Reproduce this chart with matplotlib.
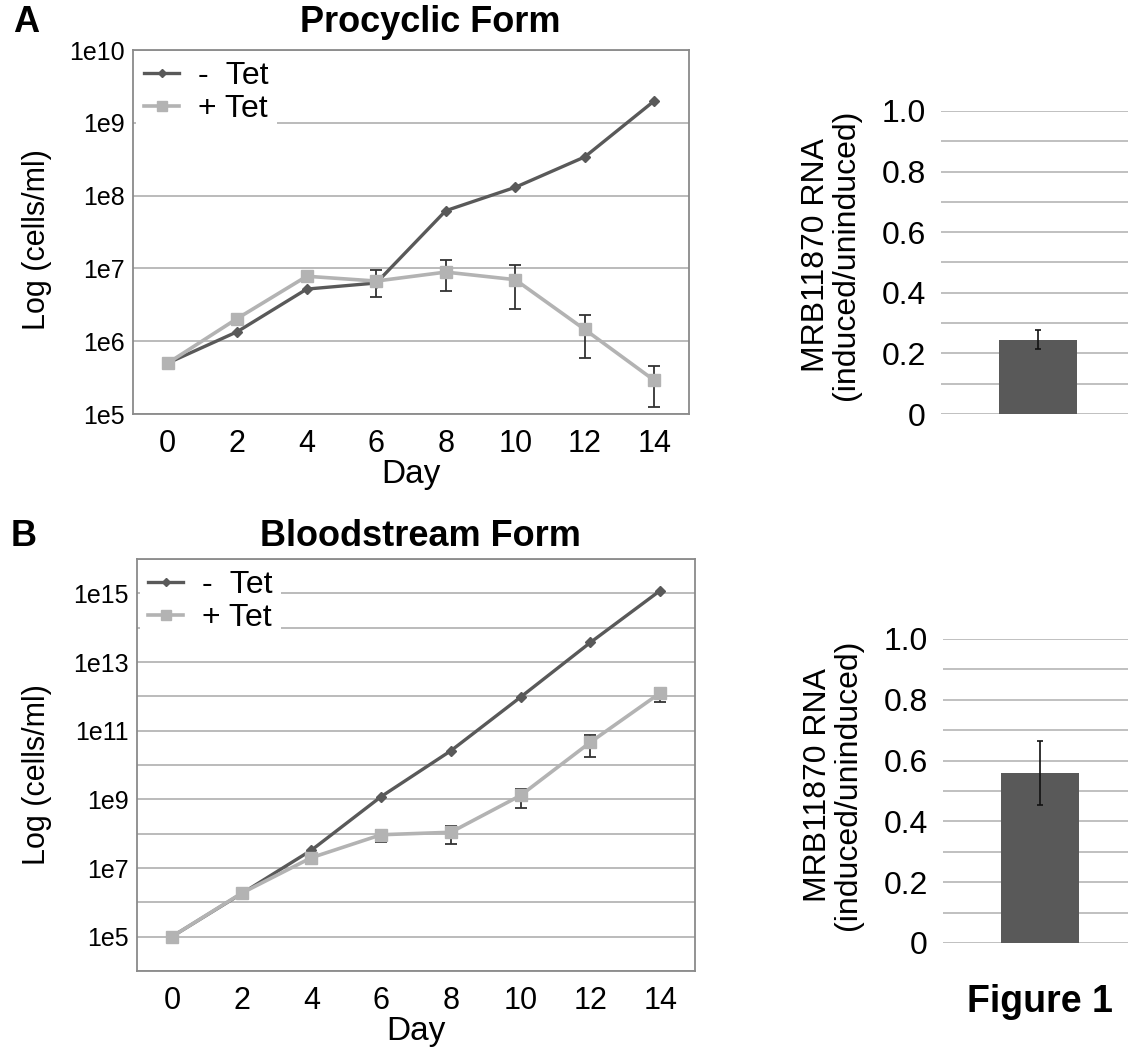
import matplotlib
matplotlib.use("Agg")
import matplotlib.pyplot as plt
from matplotlib.ticker import FixedLocator, NullFormatter

plt.rcParams['font.family'] = ['Liberation Sans', 'DejaVu Sans']

# ---- growth curves ----
days = [0, 2, 4, 6, 8, 10, 12, 14]
day_labels = ["0", "2", "4", "6", "8", "10", "12", "14"]

pcf_minus = [5.0e5, 1.35e6, 5.2e6, 6.3e6, 6.2e7, 1.3e8, 3.4e8, 2.0e9]
pcf_plus = [5.0e5, 2.05e6, 7.8e6, 6.7e6, 8.9e6, 7.0e6, 1.45e6, 2.9e5]
pcf_plus_err = [0, 0, 0, 2.7e6, 4.0e6, 4.2e6, 8.6e5, 1.65e5]

bsf_minus = [1.0e5, 1.8e6, 3.3e7, 1.2e9, 2.6e10, 9.5e11, 3.7e13, 1.2e15]
bsf_plus = [1.0e5, 1.85e6, 2.0e7, 9.3e7, 1.1e8, 1.3e9, 4.6e10, 1.25e12]
bsf_plus_err = [0, 2.0e5, 0, 3.5e7, 6.0e7, 7.5e8, 2.9e10, 5.5e11]

pcf_yticks = [1e5, 1e6, 1e7, 1e8, 1e9, 1e10]
pcf_ylabels = ["1e5", "1e6", "1e7", "1e8", "1e9", "1e10"]
bsf_yticks = [1e5, 1e7, 1e9, 1e11, 1e13, 1e15]
bsf_ylabels = ["1e5", "1e7", "1e9", "1e11", "1e13", "1e15"]
bsf_grid = [10.0 ** k for k in range(4, 17)]

series_names = ["-  Tet", "+ Tet"]

# ---- RNA knockdown ----
pcf_rna = [0.245]
pcf_rna_err = [0.032]
bsf_rna = [0.559]
bsf_rna_err = [0.104]
rna_ticks = [0, 0.2, 0.4, 0.6, 0.8, 1.0]
rna_ticklabels = ["0", "0.2", "0.4", "0.6", "0.8", "1.0"]
rna_grid = [i / 10 for i in range(11)]

DARK = "#595959"
LIGHT = "#b3b3b3"
GRID = "#b5b5b5"
FRAME = "#8a8a8a"

W, H = 1128, 1057
fig = plt.figure(figsize=(W / 100, H / 100), dpi=100)


def box(l, r, t, b):
    return [l / W, 1 - b / H, (r - l) / W, (b - t) / H]


def growth(ax, minus, plus, err, yticks, ylabels, ylim, grid_vals, ylab_xy):
    ax.set_yscale("log")
    ax.set_xlim(-1, 15)
    ax.set_ylim(*ylim)
    for g in grid_vals:
        ax.axhline(g, color=GRID, lw=1.3, zorder=0)
    ax.errorbar(days, plus, yerr=err, fmt="none", ecolor="#333333",
                elinewidth=1.3, capsize=4, capthick=1.3, zorder=2)
    ax.plot(days, minus, color=DARK, lw=2.4, marker="D", ms=5,
            label=series_names[0], zorder=3)
    ax.plot(days, plus, color=LIGHT, lw=2.6, marker="s", ms=9,
            label=series_names[1], zorder=4)
    ax.yaxis.set_major_locator(FixedLocator(yticks))
    ax.yaxis.set_minor_locator(FixedLocator([]))
    ax.yaxis.set_minor_formatter(NullFormatter())
    ax.set_yticklabels(ylabels)
    ax.set_xticks(days)
    ax.set_xticklabels(day_labels)
    ax.tick_params(axis="y", length=0, pad=6, labelsize=18)
    ax.tick_params(axis="x", length=0, pad=11, labelsize=22)
    for s in ax.spines.values():
        s.set_color(FRAME)
        s.set_linewidth(1.3)
    ax.set_xlabel("Day", fontsize=24, labelpad=0)
    ax.set_ylabel("Log (cells/ml)", fontsize=22)
    ax.yaxis.set_label_coords(*ylab_xy)
    leg = ax.legend(loc="upper left", fontsize=23, frameon=True, framealpha=1,
                    fancybox=False, edgecolor="none", borderaxespad=0.1,
                    borderpad=0.25, handlelength=1.1, handletextpad=0.6,
                    labelspacing=0.1, markerscale=0.8)
    leg.get_frame().set_linewidth(0)


def rna(ax, val, err, ylab_y):
    ax.set_xlim(-0.5, 0.5)
    ax.set_ylim(0, 1.0)
    for g in rna_grid:
        ax.axhline(g, color=GRID, lw=1.2, zorder=0)
    ax.bar([0], val, width=0.4, color=DARK, zorder=2)
    ax.errorbar([0], val, yerr=err, fmt="none", ecolor="#111111",
                elinewidth=1.2, capsize=2.5, capthick=1.2, zorder=3)
    for s in ax.spines.values():
        s.set_visible(False)
    ax.set_xticks([])
    ax.set_yticks(rna_ticks)
    ax.set_yticklabels(rna_ticklabels)
    ax.tick_params(axis="y", length=0, pad=11, labelsize=23)
    ax.set_ylabel("MRB11870 RNA\n(induced/uninduced)", fontsize=23,
                  linespacing=1.0)
    ax.yaxis.set_label_coords(-0.41, ylab_y)


axA = fig.add_axes(box(133, 689, 50, 414))
growth(axA, pcf_minus, pcf_plus, pcf_plus_err, pcf_yticks, pcf_ylabels,
       (1e5, 1e10), pcf_yticks, (-0.145, 0.48))

axB = fig.add_axes(box(137, 695, 559, 971))
growth(axB, bsf_minus, bsf_plus, bsf_plus_err, bsf_yticks, bsf_ylabels,
       (1e4, 1e16), bsf_grid, (-0.152, 0.476))

axA2 = fig.add_axes(box(941, 1135, 111, 414))
rna(axA2, pcf_rna, pcf_rna_err, 0.525)

axB2 = fig.add_axes(box(943, 1137, 639, 943))
rna(axB2, bsf_rna, bsf_rna_err, 0.52)

fig.text(430 / W, 1 - 22 / H, "Procyclic Form", fontsize=26, weight="bold",
         ha="center", va="center")
fig.text(420 / W, 1 - 537 / H, "Bloodstream Form", fontsize=26, weight="bold",
         ha="center", va="center")
fig.text(26 / W, 1 - 23 / H, "A", fontsize=26, weight="bold",
         ha="center", va="center")
fig.text(24 / W, 1 - 537 / H, "B", fontsize=26, weight="bold",
         ha="center", va="center")
fig.text(1040 / W, 1 - 1002 / H, "Figure 1", fontsize=27, weight="bold",
         ha="center", va="center")

fig.savefig("out.png", dpi=100)
